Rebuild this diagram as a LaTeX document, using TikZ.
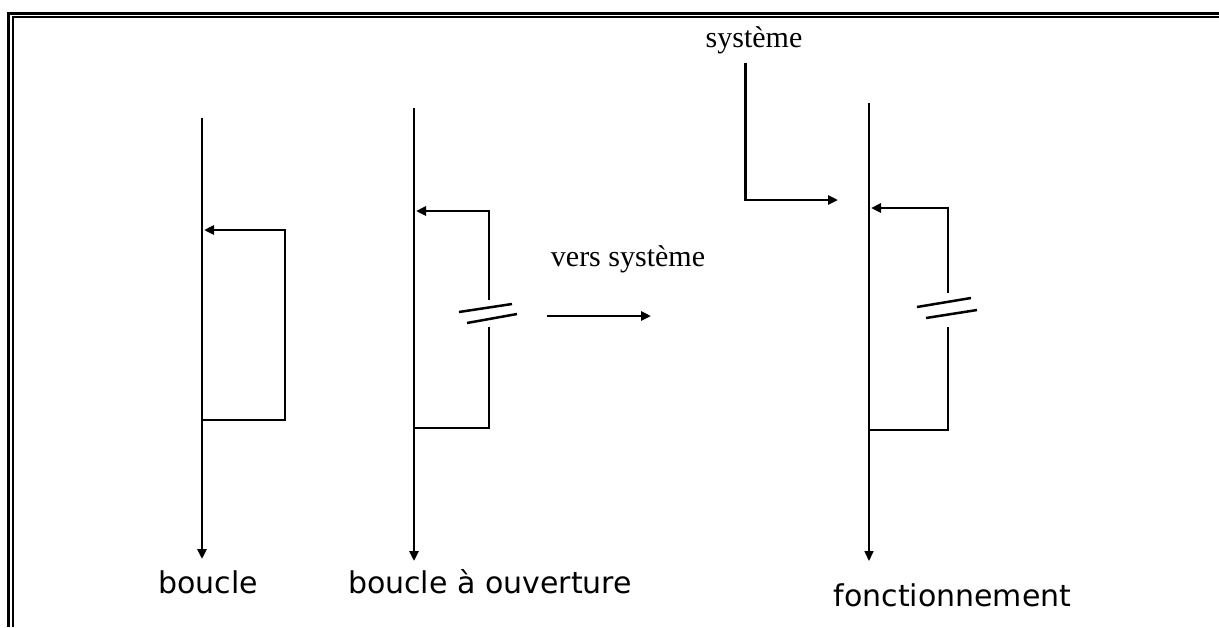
\documentclass[tikz,border=0pt]{standalone}
\usepackage{fontspec}
\setmainfont{Liberation Serif}
\newfontfamily\labfont{DejaVu Sans}
\usetikzlibrary{arrows.meta}
\begin{document}
\begin{tikzpicture}[x=1pt,y=-1pt,
  thick line/.style={line width=2.5pt},
  thin line/.style={line width=1.6pt},
  arr/.style={-{Triangle[length=10pt,width=9pt]}},
  brk/.style={line width=2.5pt},
  serlab/.style={font=\fontsize{30}{33}\selectfont, inner sep=0pt, anchor=base},
  sanslab/.style={font=\labfont\fontsize{30}{34}\selectfont, inner sep=0pt, anchor=base}]
\useasboundingbox (0,0) rectangle (1219,627);
% frame (top and left only)
\draw[line width=3pt] (8.5,627) -- (8.5,13.3) -- (1219,13.3);
\draw[line width=2pt] (12.5,627) -- (12.5,17.3) -- (1219,17.3);

% ---- loop 1: boucle
\coordinate (a1) at (202,118);
\coordinate (a2) at (202,559);
\coordinate (a3) at (202,420);
\coordinate (a4) at (285,420);
\coordinate (a5) at (285,230);
\coordinate (a6) at (204,230);
\draw[thick line,arr] (a1) -- (a2);
\draw[thick line,arr] (a3) -- (a4) -- (a5) -- (a6);
\node[sanslab] (l1) at (208,593) {boucle};

% ---- loop 2: boucle a ouverture
\coordinate (b1) at (414,108);
\coordinate (b2) at (414,561);
\coordinate (b3) at (414,428);
\coordinate (b4) at (489,428);
\coordinate (b5) at (489,327);
\coordinate (b6) at (489,300);
\coordinate (b7) at (489,211);
\coordinate (b8) at (416,211);
\draw[thick line,arr] (b1) -- (b2);
\draw[thick line] (b3) -- (b4) -- (b5);
\draw[thick line,arr] (b6) -- (b7) -- (b8);
\coordinate (bz1) at (459,312);
\coordinate (bz2) at (512,304);
\coordinate (bz3) at (467,323);
\coordinate (bz4) at (517,314);
\draw[brk] (bz1) -- (bz2);
\draw[brk] (bz3) -- (bz4);
\node[sanslab] (l2) at (490,593) {boucle à ouverture};

% ---- middle arrow
\coordinate (m1) at (547,316);
\coordinate (m2) at (651,316);
\draw[thick line,arr] (m1) -- (m2);
\node[serlab] (vs) at (628,266.7) {vers système};

% ---- loop 3: fonctionnement
\coordinate (c1) at (869,103);
\coordinate (c2) at (869,561);
\coordinate (c3) at (869,430);
\coordinate (c4) at (948,430);
\coordinate (c5) at (948,327);
\coordinate (c6) at (948,293);
\coordinate (c7) at (948,208);
\coordinate (c8) at (871,208);
\draw[thin line,arr] (c1) -- (c2);
\draw[thin line] (c3) -- (c4) -- (c5);
\draw[thick line,arr] (c6) -- (c7) -- (c8);
\coordinate (cz1) at (917,307);
\coordinate (cz2) at (971,298);
\coordinate (cz3) at (926,318);
\coordinate (cz4) at (977,310);
\draw[brk] (cz1) -- (cz2);
\draw[brk] (cz3) -- (cz4);
\node[sanslab] (l3) at (952.5,606.7) {fonctionnement};

% ---- system input
\node[serlab] (sy) at (754,47) {système};
\coordinate (s1) at (745.7,63);
\coordinate (s2) at (745.7,200);
\coordinate (s3) at (838,200);
\draw[thick line,arr] (s1) -- (s2) -- (s3);
\end{tikzpicture}
\end{document}
